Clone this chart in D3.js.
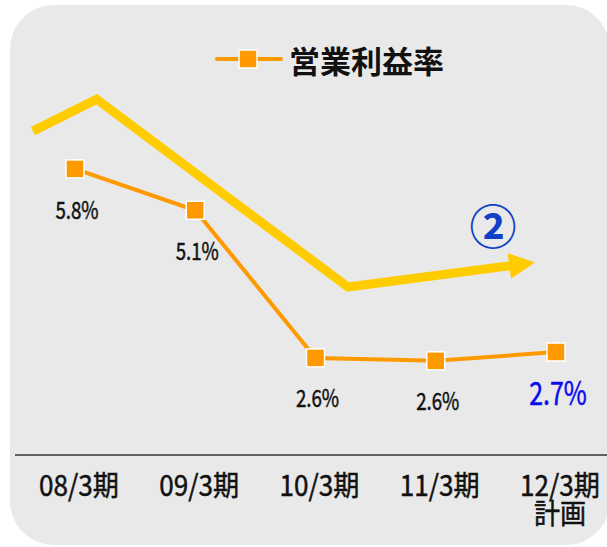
<!DOCTYPE html>
<html>
<head>
<meta charset="utf-8">
<script src="https://cdn.jsdelivr.net/npm/d3@7"></script>
<style>
  body { margin: 0; background: #ffffff; }
  svg { display: block; }
</style>
</head>
<body>
<div id="chart"></div>
<script>
// data
var categories = ['08/3期', '09/3期', '10/3期', '11/3期', '12/3期'];
var subLabels = ['', '', '', '', '計画'];
var margins = [5.8, 5.1, 2.6, 2.55, 2.7];
var marginLabels = ['5.8%', '5.1%', '2.6%', '2.6%', '2.7%'];
var seriesName = '営業利益率';
// hand-drawn trend arrow, in category index / value units
var trendIdx = [-0.35, 0.18, 2.27, 3.62];
var trendVal = [6.44, 6.98, 3.80, 4.16];

var width = 607, height = 547;
var jp = "'Noto Sans CJK JP', 'Noto Sans', sans-serif";

var svg = d3.select('#chart').append('svg')
    .attr('width', width)
    .attr('height', height);

// rounded grey panel
svg.append('rect')
    .attr('x', 10).attr('y', 5)
    .attr('width', 600).attr('height', 540)
    .attr('rx', 44).attr('ry', 44)
    .style('fill', '#e9e9e9');

var xScale = d3.scaleLinear().domain([0, categories.length - 1]).range([75, 556]);
var yScale = d3.scaleLinear().domain([1, 6]).range([452.4, 157.1]);

// category axis line
svg.append('line')
    .attr('x1', 15).attr('x2', width)
    .attr('y1', 455).attr('y2', 455)
    .style('stroke', '#333').style('stroke-width', 1.5);

// category labels (second line as a tspan)
var cat = svg.append('g').selectAll('text')
    .data(categories)
    .join('text')
    .attr('transform', function(d, i) { return 'translate(' + (xScale(i) + 4) + ',483) scale(0.9,1)'; })
    .attr('text-anchor', 'middle')
    .attr('dominant-baseline', 'central')
    .style('font-family', jp)
    .style('font-size', '29px')
    .style('fill', '#111')
    .style('stroke', '#111')
    .style('stroke-width', 0.5);
cat.append('tspan')
    .attr('x', 0)
    .text(function(d) { return d; });
cat.filter(function(d, i) { return subLabels[i] !== ''; })
    .append('tspan')
    .attr('x', 0)
    .attr('dy', 28)
    .text(function(d) { return subLabels[categories.indexOf(d)]; });

// trend arrow
var defs = svg.append('defs');
defs.append('marker')
    .attr('id', 'head')
    .attr('markerUnits', 'userSpaceOnUse')
    .attr('markerWidth', 26).attr('markerHeight', 26)
    .attr('viewBox', '0 0 24 24')
    .attr('refX', 1).attr('refY', 12)
    .attr('orient', 'auto')
    .append('path')
    .attr('d', 'M0,0 L24,12 L0,24 Z')
    .style('fill', '#ffcc00');

var trendLine = d3.line()
    .x(function(d, i) { return xScale(trendIdx[i]); })
    .y(function(d, i) { return yScale(trendVal[i]); });
svg.append('path')
    .datum(trendIdx)
    .attr('d', trendLine)
    .attr('marker-end', 'url(#head)')
    .style('fill', 'none')
    .style('stroke', '#ffcc00')
    .style('stroke-width', 9);

svg.append('text')
    .attr('x', 493).attr('y', 223)
    .attr('text-anchor', 'middle')
    .attr('dominant-baseline', 'central')
    .style('font-family', jp)
    .style('font-size', '47px')
    .style('font-weight', 'bold')
    .style('fill', '#1040c8')
    .text('②');

// series line
var line = d3.line()
    .x(function(d, i) { return xScale(i); })
    .y(function(d) { return yScale(d); });
svg.append('path')
    .datum(margins)
    .attr('d', line)
    .style('fill', 'none')
    .style('stroke', '#ff9900')
    .style('stroke-width', 4);

svg.append('g').selectAll('rect')
    .data(margins)
    .join('rect')
    .attr('x', function(d, i) { return xScale(i) - 9; })
    .attr('y', function(d) { return yScale(d) - 9; })
    .attr('width', 18).attr('height', 18)
    .style('fill', '#ff9900')
    .style('stroke', '#ffffff')
    .style('stroke-width', 1.5);

// value labels
svg.append('g').selectAll('text')
    .data(margins)
    .join('text')
    .attr('transform', function(d, i) {
        return 'translate(' + (xScale(i) + 2) + ',' + (yScale(d) + 39) + ') scale(0.78,1)';
    })
    .attr('text-anchor', 'middle')
    .attr('dominant-baseline', 'central')
    .style('font-family', jp)
    .style('font-size', function(d, i) { return i === margins.length - 1 ? '32px' : '24px'; })
    .style('fill', function(d, i) { return i === margins.length - 1 ? '#0a0af0' : '#111'; })
    .style('stroke', function(d, i) { return i === margins.length - 1 ? '#0a0af0' : '#111'; })
    .style('stroke-width', 0.5)
    .text(function(d, i) { return marginLabels[i]; });

// legend
var legend = svg.append('g');
legend.append('line')
    .attr('x1', 217).attr('x2', 281)
    .attr('y1', 59).attr('y2', 59)
    .style('stroke', '#ff9900').style('stroke-width', 4)
    .style('stroke-linecap', 'round');
legend.append('rect')
    .attr('x', 239).attr('y', 50)
    .attr('width', 18).attr('height', 18)
    .style('fill', '#ff9900')
    .style('stroke', '#ffffff')
    .style('stroke-width', 1.5);
legend.append('text')
    .attr('x', 289).attr('y', 59)
    .attr('dominant-baseline', 'central')
    .style('font-family', jp)
    .style('font-size', '31px')
    .style('font-weight', 'bold')
    .style('fill', '#111')
    .text(seriesName);
</script>
</body>
</html>
